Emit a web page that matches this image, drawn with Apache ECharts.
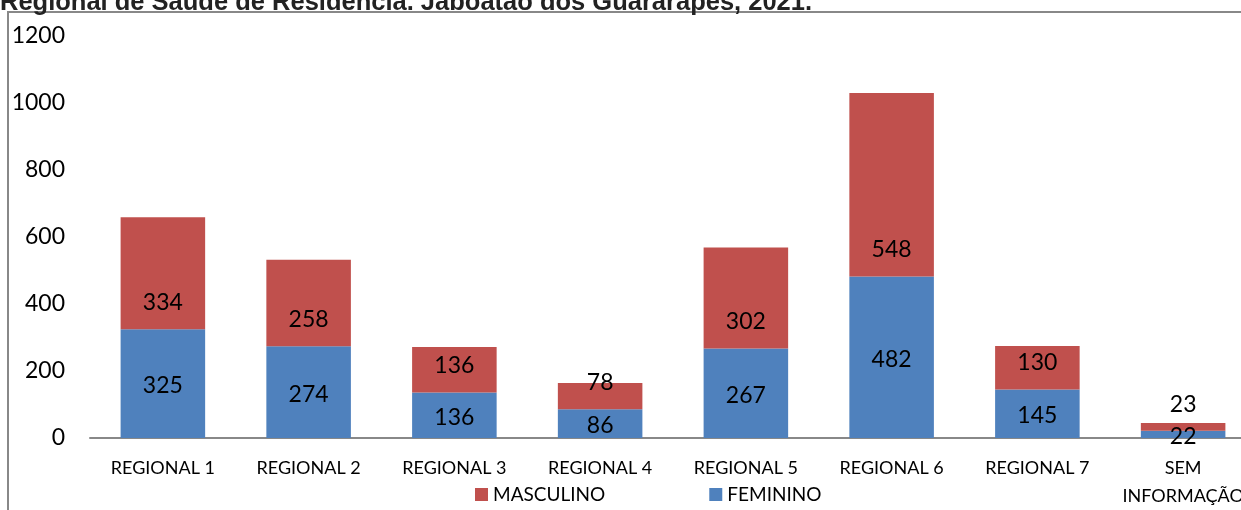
<!DOCTYPE html>
<html><head><meta charset="utf-8">
<script src="https://cdn.jsdelivr.net/npm/echarts@6/dist/echarts.min.js"></script>
<style>html,body{margin:0;padding:0;background:#fff}#c{width:1241px;height:510px}</style>
</head><body><div id="c"></div>
<script>
const categories = ['REGIONAL 1','REGIONAL 2','REGIONAL 3','REGIONAL 4','REGIONAL 5','REGIONAL 6','REGIONAL 7','SEM\nINFORMAÇÃO'];
const feminino = [325, 274, 136, 86, 267, 482, 145, 22];
const masculino = [334, 258, 136, 78, 302, 548, 130, 23];
const yTicks = [0, 200, 400, 600, 800, 1000, 1200];
const titleText = 'Regional de Saúde de Residência. Jaboatão dos Guararapes, 2021.';

const font = 'Lato, "Open Sans", sans-serif';
const chart = echarts.init(document.getElementById('c'));
chart.setOption({
  animation: false,
  grid: {left: 90, top: 36, width: 1166, height: 402, containLabel: false, outerBoundsMode: 'none'},
  legend: {
    data: ['MASCULINO', 'FEMININO'], top: 480, left: 470, itemGap: 104,
    itemWidth: 13, itemHeight: 13, icon: 'rect',
    textStyle: {fontSize: 19, fontFamily: font, color: '#000'}
  },
  graphic: [
    {type: 'rect', shape: {x: 8, y: 12, width: 1400, height: 700}, style: {fill: 'none', stroke: '#888', lineWidth: 2}, silent: true},
    {type: 'text', x: 0, y: 16, style: {text: titleText, font: 'bold 25.5px "Liberation Sans", Arial, sans-serif', fill: '#222', verticalAlign: 'bottom'}}
  ],
  xAxis: {
    type: 'category', data: categories,
    axisLine: {lineStyle: {color: '#888', width: 2}},
    axisTick: {show: false},
    axisLabel: {color: '#000', fontSize: 18, fontFamily: font, margin: 16, interval: 0, lineHeight: 28}
  },
  yAxis: {
    type: 'value', min: 0, max: 1200, interval: 200,
    splitLine: {show: false}, axisLine: {show: false}, axisTick: {show: false},
    axisLabel: {color: '#000', fontSize: 23, fontFamily: font, margin: 25,
      formatter: v => yTicks.includes(v) ? String(v) : ''}
  },
  series: [
    {name: 'FEMININO', type: 'bar', stack: 's', data: feminino, barWidth: '58%',
      itemStyle: {color: '#4f81bd'},
      label: {show: true, position: 'inside', offset: [0, 2], color: '#000', fontSize: 23, fontFamily: font}},
    {name: 'MASCULINO', type: 'bar', stack: 's', data: masculino, barWidth: '58%',
      itemStyle: {color: '#c0504d'},
      label: {show: true, position: 'insideBottom', distance: 15, color: '#000', fontSize: 23, fontFamily: font}}
  ]
});
</script></body></html>
